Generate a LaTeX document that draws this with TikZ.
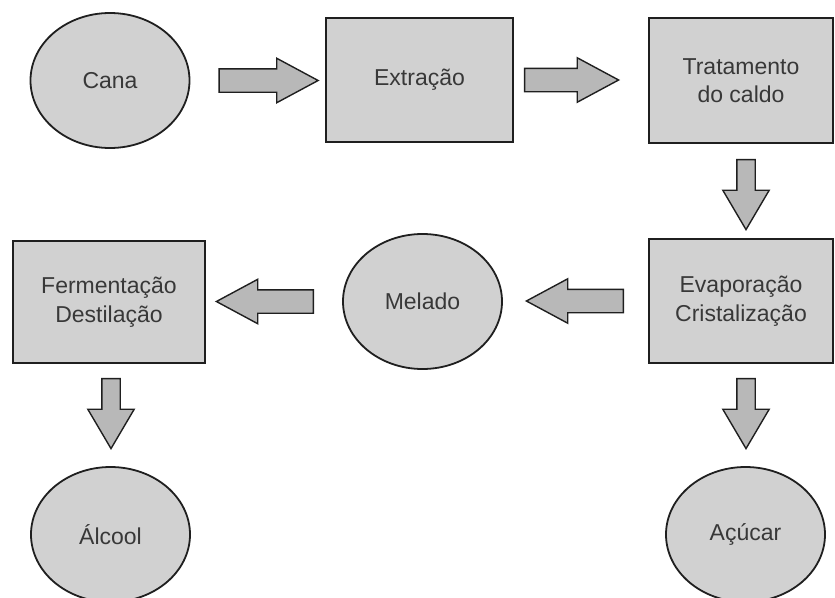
\documentclass[tikz,border=0pt]{standalone}
\usepackage{fontspec}
\setmainfont{Liberation Sans}
\usetikzlibrary{shapes.geometric,shapes.arrows,calc}
\definecolor{cinza}{gray}{0.82}
\definecolor{cinzaseta}{gray}{0.72}
\definecolor{contorno}{gray}{0.12}
\definecolor{texto}{gray}{0.22}
\newcommand{\fonte}{\fontsize{23}{28.5}\selectfont}
\tikzset{
etapa/.style={
  rectangle,
  draw=contorno,
  line width=1.8pt,
  fill=cinza,
  text=texto,
  align=center,
  inner sep=0pt,
  font=\fonte
},
produto/.style={
  ellipse,
  draw=contorno,
  line width=1.8pt,
  fill=cinza,
  text=texto,
  minimum width=159pt,
  minimum height=135pt,
  inner sep=0pt,
  font=\fonte
},
seta/.style={
  single arrow,
  draw=contorno,
  line width=1.4pt,
  fill=cinzaseta,
  inner sep=11pt,
  single arrow head extend=10.5pt,
  single arrow tip angle=56.5,
  anchor=tail
},
setabaixo/.style={
  seta,
  shape border rotate=270,
  inner sep=8.5pt,
  single arrow head extend=14pt,
  single arrow tip angle=61,
  minimum height=70pt
}
}

\begin{document}
\begin{tikzpicture}[x=1pt,y=-1pt]
\useasboundingbox (0,0) rectangle (835,597);
% the stages
\node[produto] (cana) at (110,80.5) {Cana};
\node[etapa, minimum width=187pt, minimum height=124pt] (extr) at (419.5,80) {Extração};
\node[etapa, minimum width=184pt, minimum height=125pt] (trat) at (741,80.5) {Tratamento\\do caldo};
\node[etapa, minimum width=184pt, minimum height=124pt] (evap) at (741,301) {Evaporação\\Cristalização};
\node[produto] (melado) at (422.5,301.5) {Melado};
\node[etapa, minimum width=192pt, minimum height=122pt] (ferm) at (109,302) {Fermentação\\Destilação};
\node[produto] (alcool) at (110.5,534.5) {Álcool};
\node[produto] (acucar) at (745.5,534.5) {Açúcar};
% the arrows
\node[seta, minimum height=99pt] (s1) at ($(cana.east)+(28,0)$) {};
\node[seta, minimum height=94pt] (s2) at ($(extr.east)+(10,0)$) {};
\node[setabaixo] (s3) at ($(trat.south)+(5,15)$) {};
\node[seta, shape border rotate=180, minimum height=97pt] (s4) at ($(evap.west)+(-24,0)$) {};
\node[seta, shape border rotate=180, minimum height=97pt] (s5) at ($(melado.west)+(-28,0)$) {};
\node[setabaixo] (s6) at ($(ferm.south)+(2,14)$) {};
\node[setabaixo] (s7) at ($(evap.south)+(5,14)$) {};
\end{tikzpicture}
\end{document}
